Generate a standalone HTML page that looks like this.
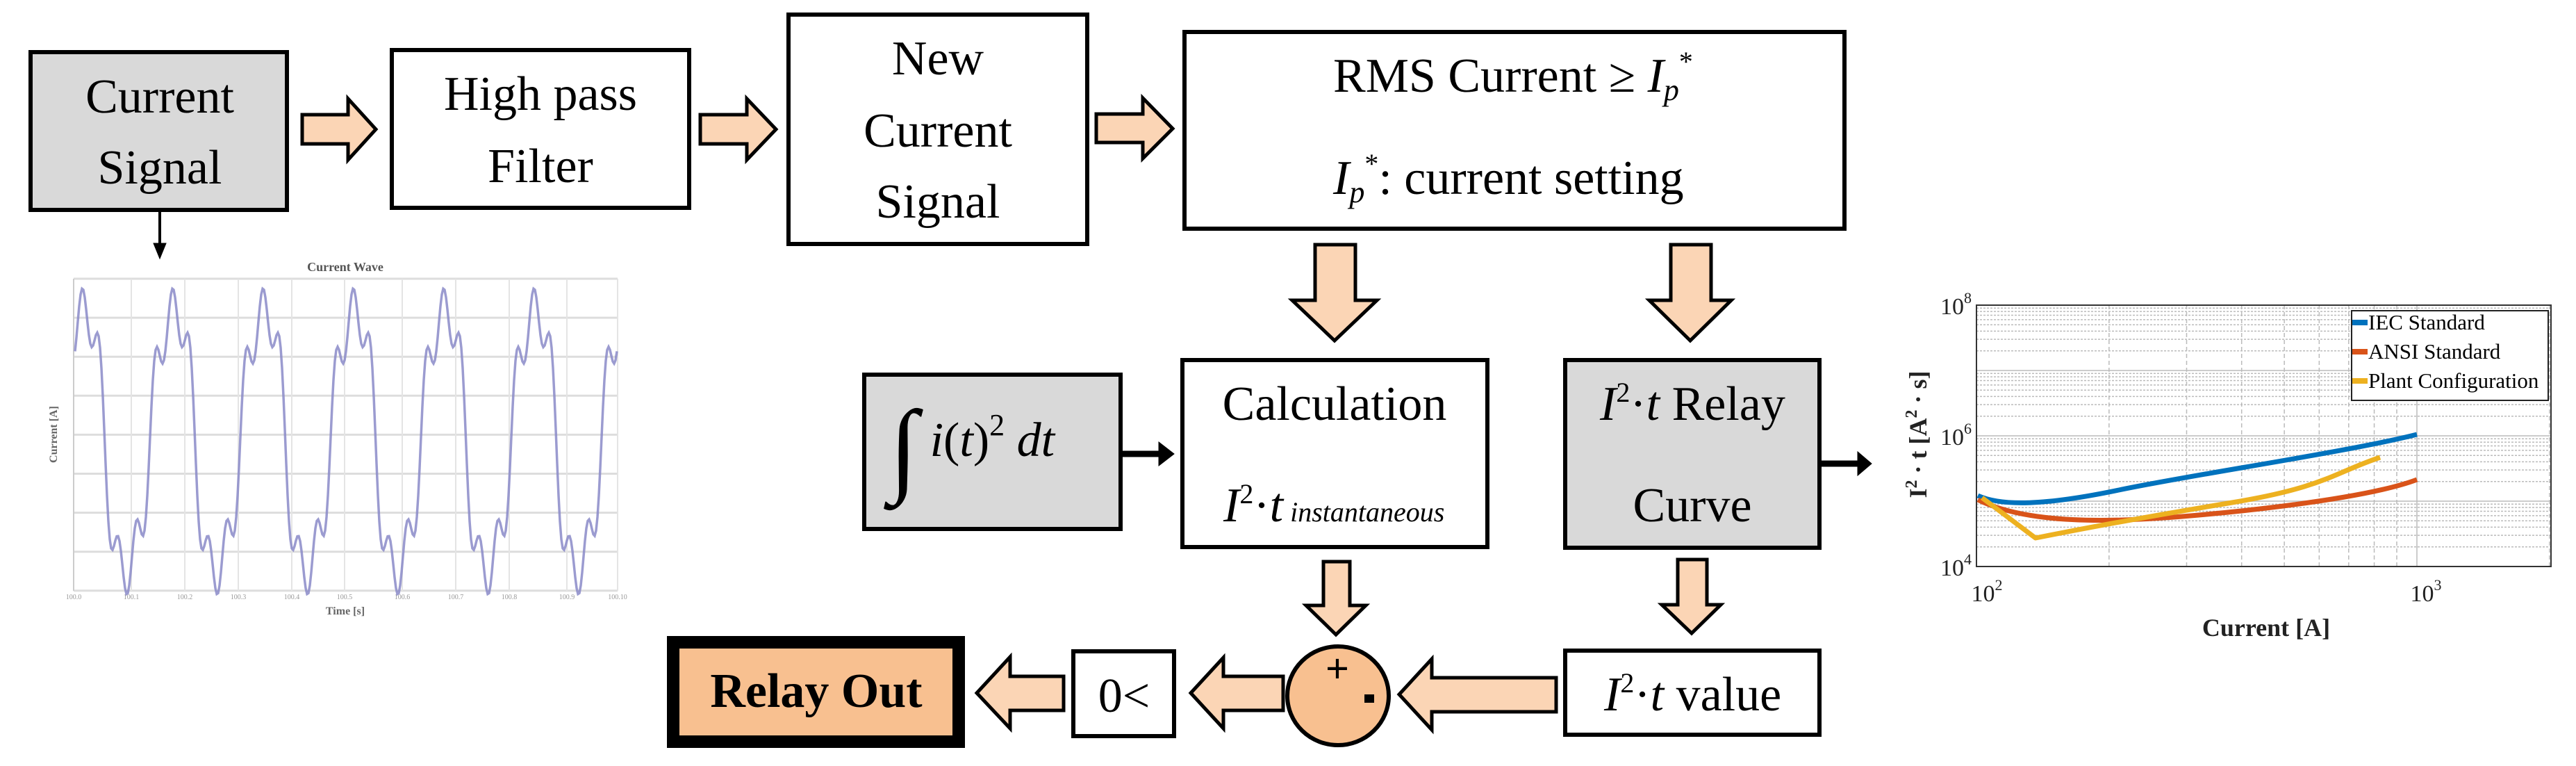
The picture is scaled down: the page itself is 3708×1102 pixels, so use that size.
<!DOCTYPE html>
<html><head><meta charset="utf-8"><style>
html,body{margin:0;padding:0;background:#fff}
svg{display:block}
text{font-family:"Liberation Serif",serif}
</style></head><body>
<svg id="s" width="3708" height="1102" viewBox="0 0 3708 1102" xmlns="http://www.w3.org/2000/svg">
<rect width="3708" height="1102" fill="#fff"/>
<g stroke="#000" stroke-width="6">
<rect x="44" y="75" width="369" height="227" fill="#d9d9d9"/>
<rect x="564" y="72" width="428" height="227" fill="#fff"/>
<rect x="1135" y="21" width="430" height="330" fill="#fff"/>
<rect x="1705" y="46" width="950" height="283" fill="#fff"/>
<rect x="1244" y="539" width="369" height="222" fill="#d9d9d9"/>
<rect x="1702" y="518" width="439" height="269" fill="#fff"/>
<rect x="2253" y="518" width="366" height="270" fill="#d9d9d9"/>
<rect x="2253" y="936" width="366" height="121" fill="#fff"/>
<rect x="1545" y="937" width="145" height="122" fill="#fff"/>
</g>
<rect x="969" y="924" width="411" height="143" fill="#f8c090" stroke="#000" stroke-width="18"/>
<ellipse cx="1926" cy="1001" rx="73" ry="71" fill="#f8c090" stroke="#000" stroke-width="6"/>
<g fill="#fbd5b5" stroke="#000" stroke-width="5" stroke-linejoin="miter">
<polygon points="435,165 501,165 501,142 541,186 501,230 501,207 435,207"/>
<polygon points="1008,165 1075,165 1075,142 1117,186 1075,230 1075,207 1008,207"/>
<polygon points="1578,164 1645,164 1645,141 1688,185 1645,228 1645,205 1578,205"/>
<polygon points="1893,352 1951,352 1951,432 1982,432 1921,490 1860,432 1893,432"/>
<polygon points="2405,352 2463,352 2463,432 2492,432 2433,490 2374,432 2405,432"/>
<polygon points="1905,808 1943,808 1943,871 1966,871 1923,913 1880,871 1905,871"/>
<polygon points="2415,805 2457,805 2457,870 2477,870 2435,911 2392,870 2415,870"/>
<polygon points="2240,975 2061,975 2061,948 2014,999 2061,1050 2061,1024 2240,1024"/>
<polygon points="1847,973 1761,973 1761,946 1714,997 1761,1048 1761,1022 1847,1022"/>
<polygon points="1531,973 1454,973 1454,945 1406,997 1454,1048 1454,1022 1531,1022"/>
</g>
<g stroke="#000" fill="#000">
<line x1="230" y1="305" x2="230" y2="352" stroke-width="4"/>
<polygon points="221,350 239,350 230,372"/>
<line x1="1616" y1="653" x2="1670" y2="653" stroke-width="9"/>
<polygon points="1668,636 1668,670 1690,653"/>
<line x1="2622" y1="667" x2="2676" y2="667" stroke-width="9"/>
<polygon points="2674,650 2674,684 2694,667"/>
</g>
<g font-size="70" fill="#000" text-anchor="middle">
<text x="230" y="162">Current</text><text x="230" y="264">Signal</text>
<text x="778" y="158">High pass</text><text x="778" y="262">Filter</text>
<text x="1350" y="107">New</text><text x="1350" y="211">Current</text><text x="1350" y="313">Signal</text>
<text x="1921" y="604" text-anchor="middle">Calculation</text>
<text x="2436" y="750">Curve</text>
<text x="1618" y="1024">0&lt;</text>
<text x="1175" y="1017" font-weight="bold">Relay Out</text>
</g>
<g font-size="70" fill="#000">
<text x="1919" y="132">RMS Current ≥ <tspan font-style="italic">I</tspan><tspan font-style="italic" font-size="44" dy="12">p</tspan><tspan font-size="40" dy="-42">*</tspan></text>
<text x="1919" y="279"><tspan font-style="italic">I</tspan><tspan font-style="italic" font-size="44" dy="12">p</tspan><tspan font-size="40" dy="-42">*</tspan><tspan dy="30">: current setting</tspan></text>
<text x="1761" y="750"><tspan font-style="italic">I</tspan><tspan font-size="40" dy="-26">2</tspan><tspan dy="26">·</tspan><tspan font-style="italic">t</tspan><tspan font-style="italic" font-size="40"> instantaneous</tspan></text>
<text x="2303" y="604"><tspan font-style="italic">I</tspan><tspan font-size="40" dy="-26">2</tspan><tspan dy="26">·</tspan><tspan font-style="italic">t</tspan> Relay</text>
<text x="2309" y="1022"><tspan font-style="italic">I</tspan><tspan font-size="40" dy="-26">2</tspan><tspan dy="26">·</tspan><tspan font-style="italic">t</tspan> value</text>
<text x="1280" y="656"><tspan font-size="150" dy="38">∫</tspan><tspan dy="-38" font-style="italic"> i</tspan>(<tspan font-style="italic">t</tspan>)<tspan font-size="44" dy="-30">2</tspan><tspan dy="30" font-style="italic"> dt</tspan></text>
</g>
<text x="1925" y="982" font-size="60" font-weight="bold" text-anchor="middle" font-family="Liberation Sans,sans-serif">+</text>
<rect x="1964" y="999" width="14" height="12" fill="#000"/>
<g id="wave"></g>
<g id="chart"></g>
</svg>
<script>
var NS="http://www.w3.org/2000/svg";
function el(p,t,a,txt){var e=document.createElementNS(NS,t);for(var k in a)e.setAttribute(k,a[k]);if(txt!=null)e.textContent=txt;p.appendChild(e);return e;}
var w=document.getElementById('wave');
el(w,'text',{x:497,y:390,'font-size':18,'font-weight':'bold','text-anchor':'middle',fill:'#555'},'Current Wave');
for(var i=0;i<9;i++){var y=401+i*56.1;el(w,'line',{x1:106,x2:889,y1:y,y2:y,stroke:'#ddd','stroke-width':3});}
var vx=[106,189,266,343,420,496,579,656,733,816,889];
vx.forEach(function(x,i){el(w,'line',{x1:x,x2:x,y1:401,y2:850,stroke:'#e4e4e4','stroke-width':2});el(w,'text',{x:x,y:862,'font-size':10,fill:'#999','text-anchor':'middle'},'100.'+i)});
el(w,'line',{x1:106,x2:106,y1:401,y2:850,stroke:'#ccc','stroke-width':2});
el(w,'text',{x:497,y:884,'font-size':16,'font-weight':'bold','text-anchor':'middle',fill:'#666'},'Time [s]');
el(w,'text',{x:0,y:0,'font-size':16,'font-weight':'bold','text-anchor':'middle',fill:'#666',transform:'translate(82,625) rotate(-90)'},'Current [A]');
var d='';
for(var x=108;x<=888;x+=2){var th=(x-112)/130*2*Math.PI-0.3;var f=Math.cos(th)-0.12*Math.cos(3*th)+0.22*Math.cos(5*th)+0.06*Math.sin(2*th);var y=635-200*f;d+=(x==108?'M':'L')+x+','+y.toFixed(1);}
el(w,'path',{d:d,fill:'none',stroke:'#8a8ac8','stroke-width':3.5,opacity:0.85});
var c=document.getElementById('chart');
var X0=2845,X1=3672,Y0=439,Y1=815,px=634,py=94;
function gx(v){return X0+(Math.log10(v)-2)*px}function gy(v){return Y1-(Math.log10(v)-4)*py}
for(var dec=4;dec<8;dec++)for(var m=1;m<10;m++){var y=gy(m*Math.pow(10,dec));if(y<Y0)continue;el(c,'line',{x1:X0,x2:X1,y1:y,y2:y,stroke:m==1?'#ccc':'#bbb','stroke-width':m==1?2:1.5,'stroke-dasharray':m==1?'':'3,2'});}
for(var dec=2;dec<4;dec++)for(var m=1;m<10;m++){var x=gx(m*Math.pow(10,dec));if(x>X1)continue;el(c,'line',{x1:x,x2:x,y1:Y0,y2:Y1,stroke:'#bbb','stroke-width':1.5,'stroke-dasharray':m==1?'':'6,4'});}
el(c,'rect',{x:X0,y:Y0,width:X1-X0,height:Y1-Y0,fill:'none',stroke:'#333','stroke-width':2});
function pl(d,col){el(c,'path',{d:d,fill:'none',stroke:col,'stroke-width':7,'stroke-linejoin':'round'})}
pl('M2847,713 C2880,728 2940,728 3050,705 S3380,650 3479,625','#0072bd');
pl('M2847,719 C2900,745 2980,752 3080,747 S3400,720 3479,690','#d95319');
pl('M2853,716 L2930,774 C3000,760 3080,745 3213,723 S3360,680 3426,658','#edb120');
el(c,'rect',{x:3385,y:447,width:283,height:129,fill:'#fff',stroke:'#222','stroke-width':2});
[['IEC Standard','#0072bd',474],['ANSI Standard','#d95319',516],['Plant Configuration','#edb120',558]].forEach(function(a){el(c,'rect',{x:3386,y:a[2]-14,width:22,height:8,fill:a[1]});el(c,'text',{x:3409,y:a[2],'font-size':31,fill:'#000'},a[0]);});
function pw(x,y,b,e,anchor){var t=el(c,'text',{x:x,y:y,'font-size':34,fill:'#222','text-anchor':anchor});el(t,'tspan',{},b);el(t,'tspan',{'font-size':22,dy:-16},e);}
pw(2838,452,'10','8','end');pw(2838,640,'10','6','end');pw(2838,828,'10','4','end');
pw(2860,865,'10','2','middle');pw(3492,865,'10','3','middle');
el(c,'text',{x:3262,y:915,'font-size':36,'font-weight':'bold','text-anchor':'middle',fill:'#222'},'Current [A]');
var yl=el(c,'text',{x:0,y:0,'font-size':36,'font-weight':'bold','text-anchor':'middle',fill:'#222',transform:'translate(2773,625) rotate(-90)'});
el(yl,'tspan',{},'I');el(yl,'tspan',{'font-size':24,dy:-14},'2');el(yl,'tspan',{dy:14},' · t [A');el(yl,'tspan',{'font-size':24,dy:-14},'2');el(yl,'tspan',{dy:14},' · s]');
</script>
</body></html>
